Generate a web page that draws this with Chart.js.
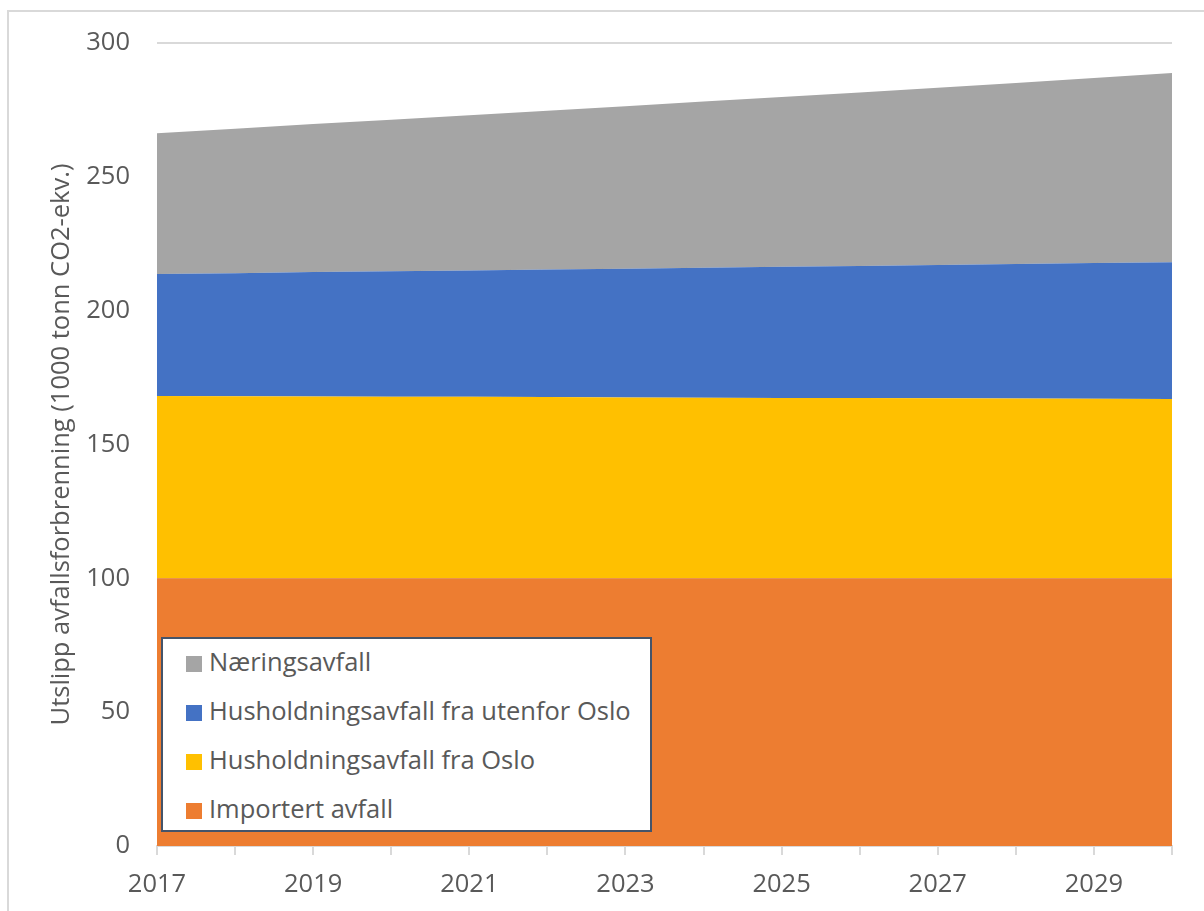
<!DOCTYPE html>
<html>
<head>
    <title>Utslipp avfallsforbrenning</title>
    <style>
        body {
            margin: 0;
            background-color: white;
            overflow: hidden;
            font-family: 'Open Sans', sans-serif;
        }

        .frame {
            position: absolute;
            left: 7px;
            top: 10px;
            width: 1300px;
            height: 1000px;
            border: 2px solid #d9d9d9;
        }

        .chart-container {
            position: absolute;
            left: 0;
            top: 0;
            width: 1204px;
            height: 911px;
        }

        .legend {
            position: absolute;
            left: 161px;
            top: 637px;
            width: 487px;
            height: 191px;
            background: white;
            border: 2px solid #44546a;
        }

        .legend-item {
            position: absolute;
            left: 23px;
            height: 30px;
            line-height: 30px;
            font-size: 25.5px;
            color: #595959;
            white-space: nowrap;
        }

        .legend-item span {
            display: inline-block;
            width: 16px;
            height: 16px;
            margin-right: 7px;
            vertical-align: -1px;
        }
    </style>
    <script src="https://cdn.jsdelivr.net/npm/chart.js@4.4.1/dist/chart.umd.min.js"></script>
</head>
<body>
    <div class="frame"></div>
    <div class="chart-container">
        <canvas id="wasteChart" width="1204" height="911"></canvas>
    </div>
    <div class="legend" id="legend"></div>

    <script>
        // Data (1000 tonn CO2-ekv.)
        const years = ['2017', '2018', '2019', '2020', '2021', '2022', '2023',
                       '2024', '2025', '2026', '2027', '2028', '2029', '2030'];
        const importert = [100, 100, 100, 100, 100, 100, 100, 100, 100, 100, 100, 100, 100, 100];
        const husholdningOslo = [68.1, 68.0, 67.9, 67.8, 67.8, 67.7, 67.6, 67.5, 67.4, 67.4, 67.3, 67.2, 67.1, 67.0];
        const husholdningUtenfor = [45.6, 46.0, 46.5, 46.9, 47.2, 47.7, 48.1, 48.5, 49.0, 49.3, 49.8, 50.2, 50.7, 51.1];
        const naering = [52.6, 54.0, 55.3, 56.6, 58.0, 59.3, 60.7, 62.1, 63.4, 64.8, 66.2, 67.7, 69.1, 70.7];
        const yTicks = [0, 50, 100, 150, 200, 250, 300];

        const series = [
            { label: 'Importert avfall', data: importert, color: '#ed7d31' },
            { label: 'Husholdningsavfall fra Oslo', data: husholdningOslo, color: '#ffc000' },
            { label: 'Husholdningsavfall fra utenfor Oslo', data: husholdningUtenfor, color: '#4472c4' },
            { label: 'Næringsavfall', data: naering, color: '#a5a5a5' }
        ];

        const textColor = '#595959';
        const font = { family: "'Open Sans', sans-serif", size: 25.5 };

        const canvas = document.getElementById('wasteChart');

        new Chart(canvas, {
            type: 'line',
            data: {
                labels: years,
                datasets: series.map((s, i) => ({
                    label: s.label,
                    data: s.data,
                    backgroundColor: s.color,
                    borderColor: s.color,
                    borderWidth: 0,
                    pointRadius: 0,
                    fill: i === 0 ? 'origin' : '-1',
                    tension: 0
                }))
            },
            options: {
                responsive: false,
                animation: false,
                layout: {
                    padding: { left: 0, right: 32, top: 43, bottom: 0 }
                },
                plugins: {
                    legend: { display: false },
                    tooltip: { enabled: false }
                },
                scales: {
                    x: {
                        offset: false,
                        grid: {
                            drawOnChartArea: false,
                            drawTicks: true,
                            tickLength: 9,
                            color: '#d9d9d9',
                            lineWidth: 2
                        },
                        border: { color: '#d9d9d9', width: 2 },
                        ticks: {
                            autoSkip: false,
                            maxRotation: 0,
                            color: textColor,
                            font: font,
                            padding: 14,
                            callback: function(value, index) {
                                return index % 2 === 0 ? years[index] : '';
                            }
                        },
                        afterFit: function(scale) { scale.height = 65; }
                    },
                    y: {
                        stacked: true,
                        min: 0,
                        max: 300,
                        afterBuildTicks: function(scale) {
                            scale.ticks = yTicks.map(v => ({ value: v }));
                        },
                        grid: {
                            drawTicks: false,
                            color: '#d9d9d9',
                            lineWidth: 2
                        },
                        border: { display: false },
                        ticks: {
                            color: textColor,
                            font: font,
                            padding: 27
                        },
                        title: {
                            display: true,
                            text: 'Utslipp avfallsforbrenning (1000 tonn CO2-ekv.)',
                            color: textColor,
                            font: font,
                            padding: { top: 46, bottom: 0 }
                        },
                        afterFit: function(scale) { scale.width = 157; }
                    }
                }
            }
        });

        // Legend box drawn over the chart area, top item first
        const legend = document.getElementById('legend');
        const rowTops = [7, 56, 105, 154];
        series.slice().reverse().forEach((s, i) => {
            const item = document.createElement('div');
            item.className = 'legend-item';
            item.style.top = rowTops[i] + 'px';
            item.innerHTML = '<span style="background:' + s.color + '"></span>' + s.label;
            legend.appendChild(item);
        });
    </script>
</body>
</html>
